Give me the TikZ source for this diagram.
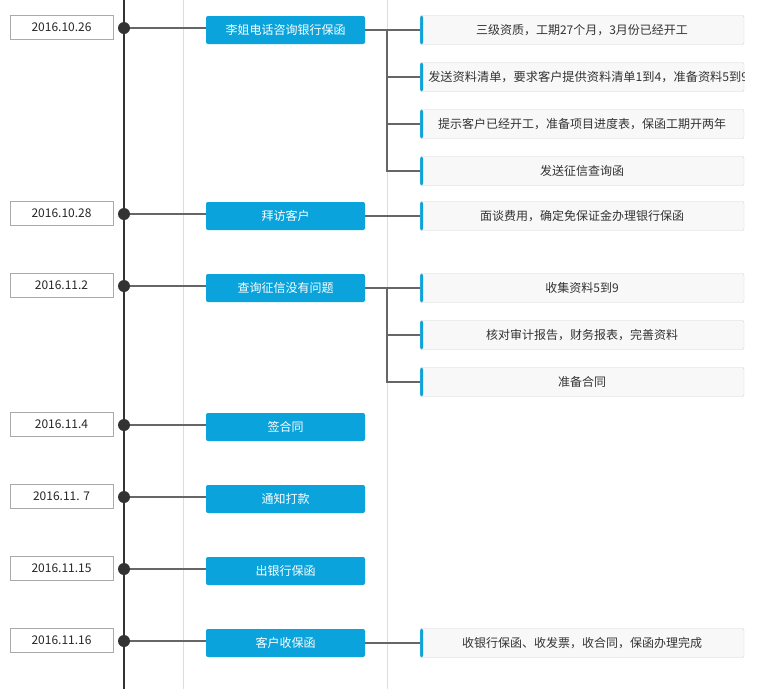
\documentclass[tikz,border=0pt]{standalone}
\usepackage{fontspec}
\setmainfont{Noto Sans CJK SC}
\definecolor{tlblue}{HTML}{0AA3DB}
\definecolor{tldark}{HTML}{333333}
\definecolor{linkgray}{HTML}{666666}
\definecolor{guidegray}{HTML}{DDDDDD}
\definecolor{datebd}{HTML}{AAAAAA}
\definecolor{notebd}{HTML}{D2D2D2}
\definecolor{notebg}{HTML}{F8F8F8}

\begin{document}
\begin{tikzpicture}[x=1pt,y=-1pt,font=\fontsize{12}{14}\selectfont]
    \tikzstyle{date}=[draw=datebd,fill=white,minimum width=103pt,minimum height=24pt,inner sep=0pt,text=black!85];
    \tikzstyle{dot}=[circle,fill=tldark,minimum size=12pt,inner sep=0pt];
    \tikzstyle{event}=[fill=tlblue,text=white,rounded corners=2pt,minimum width=159pt,minimum height=28pt,inner sep=0pt];
    \tikzstyle{note}=[draw=notebd,fill=notebg,rounded corners=2pt,minimum width=324pt,minimum height=29pt,inner sep=0pt,text=black!80,
      path picture={\fill[tlblue] (path picture bounding box.south west) rectangle ([xshift=3pt]path picture bounding box.north west);}];
    \tikzstyle{link}=[draw=linkgray,line width=2pt];
    \tikzstyle{guide}=[draw=guidegray,line width=1pt];

    \useasboundingbox (0,0) rectangle (768,689);
    \draw[guide] (183,0) -- (183,689); \draw[guide] (387,0) -- (387,689);
    \draw[draw=tldark,line width=2pt] (124,0) -- (124,689);

    % 2016.10.26
    \node (d1) [date] at (61.5,27) {2016.10.26};
    \node (p1) [dot] at (124,28) {};
    \node (e1) [event] at (285.5,30) {李姐电话咨询银行保函};
    \node (n1a) [note] at (582,30) {三级资质，工期27个月，3月份已经开工};
    \node (n1b) [note,path picture={\fill[tlblue] (path picture bounding box.south west) rectangle ([xshift=3pt]path picture bounding box.north west);
      \node[anchor=west,text=black!80,font=\fontsize{12.2}{14}\selectfont] at ([xshift=6pt]path picture bounding box.west) {发送资料清单，要求客户提供资料清单1到4，准备资料5到9};}] at (582,77) {};
    \node (n1c) [note] at (582,124) {提示客户已经开工，准备项目进度表，保函工期开两年};
    \node (n1d) [note] at (582,171) {发送征信查询函};
    \coordinate (j1) at (387,30);

    % 2016.10.28
    \node (d2) [date] at (61.5,213) {2016.10.28};
    \node (p2) [dot] at (124,214) {};
    \node (e2) [event] at (285.5,216) {拜访客户};
    \node (n2a) [note] at (582,216) {面谈费用，确定免保证金办理银行保函};

    % 2016.11.2
    \node (d3) [date] at (61.5,285) {2016.11.2};
    \node (p3) [dot] at (124,286) {};
    \node (e3) [event] at (285.5,288) {查询征信没有问题};
    \node (n3a) [note] at (582,288) {收集资料5到9};
    \node (n3b) [note] at (582,335) {核对审计报告，财务报表，完善资料};
    \node (n3c) [note] at (582,382) {准备合同};
    \coordinate (j3) at (387,288);

    % 2016.11.4 - 2016.11.15
    \node (d4) [date] at (61.5,424) {2016.11.4};
    \node (p4) [dot] at (124,425) {};
    \node (e4) [event] at (285.5,427) {签合同};

    \node (d5) [date] at (61.5,496) {2016.11. 7};
    \node (p5) [dot] at (124,497) {};
    \node (e5) [event] at (285.5,499) {通知打款};

    \node (d6) [date] at (61.5,568) {2016.11.15};
    \node (p6) [dot] at (124,569) {};
    \node (e6) [event] at (285.5,571) {出银行保函};

    % 2016.11.16
    \node (d7) [date] at (61.5,640) {2016.11.16};
    \node (p7) [dot] at (124,641) {};
    \node (e7) [event] at (285.5,643) {客户收保函};
    \node (n7a) [note] at (582,643) {收银行保函、收发票，收合同，保函办理完成};

    \path[link] (p1) -- (p1 -| e1.west) (p2) -- (p2 -| e2.west) (p3) -- (p3 -| e3.west)
    (p4) -- (p4 -| e4.west) (p5) -- (p5 -| e5.west) (p6) -- (p6 -| e6.west) (p7) -- (p7 -| e7.west);
    \path[link] (e1.east) -- (n1a.west) (j1) |- (n1b.west) (j1) |- (n1c.west) (j1) |- (n1d.west)
    (e2.east) -- (n2a.west)
    (e3.east) -- (n3a.west) (j3) |- (n3b.west) (j3) |- (n3c.west)
    (e7.east) -- (n7a.west);
\end{tikzpicture}
\end{document}
